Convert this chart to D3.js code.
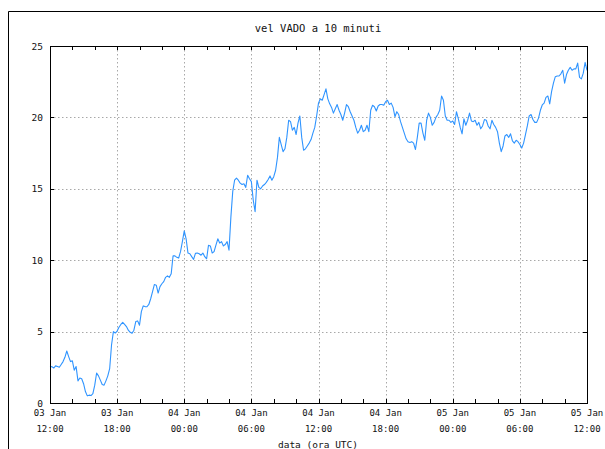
<!DOCTYPE html>
<html>
<head>
<meta charset="utf-8">
<script src="https://cdn.jsdelivr.net/npm/d3@7"></script>
<style>
  html, body { margin: 0; padding: 0; background: #fff; }
  svg { display: block; }
  text { font-family: "DejaVu Sans Mono", monospace; fill: #111; }
</style>
</head>
<body>
<script>
// Wind speed at VADO, 10-minute samples, 03 Jan 12:00 -> 05 Jan 12:00 UTC
const startTime = "2000-01-03T12:00:00Z";
const stepMinutes = 10;
const speeds = [
  2.5, 2.55, 2.45, 2.6, 2.55, 2.5,
  2.7, 2.9, 3.2, 3.64, 3.25, 2.9,
  2.95, 2.3, 2.55, 1.55, 1.75, 1.7,
  1.35, 0.8, 0.5, 0.55, 0.52, 0.65,
  1.25, 2.1, 1.9, 1.6, 1.3, 1.25,
  1.55, 1.9, 2.4, 4.06, 5.0, 4.9,
  5.04, 5.3, 5.5, 5.65, 5.5, 5.35,
  5.1, 4.95, 4.88, 5.1, 5.7, 5.75,
  5.45, 6.4, 6.8, 6.75, 6.74, 6.9,
  7.3, 7.8, 8.3, 8.25, 7.7, 8.15,
  8.35, 8.5, 8.8, 8.9, 8.8, 9.05,
  10.3, 10.3, 10.2, 10.15, 10.6, 11.3,
  12.05, 11.5, 10.5, 10.45, 10.25, 10.06,
  10.48, 10.5, 10.45, 10.35, 10.5, 10.25,
  10.1, 11.05, 11.0, 10.5, 10.6, 11.05,
  11.5, 11.2, 11.3, 11.0, 11.1, 11.3,
  10.7, 13.0, 14.8, 15.6, 15.75, 15.6,
  15.4, 15.3, 15.35, 15.1, 15.95, 15.7,
  15.5, 14.2, 13.4, 15.6, 15.1, 15.0,
  15.2, 15.3, 15.45, 15.65, 15.9, 15.6,
  15.85, 16.3, 17.2, 18.6, 18.1, 17.6,
  17.8, 18.6, 19.8, 19.7, 19.1, 19.3,
  18.8, 19.6, 20.1, 18.6, 17.7, 17.8,
  18.0, 18.2, 18.45, 18.9, 19.3, 20.1,
  21.0, 21.3, 21.2, 21.6, 22.0, 21.3,
  20.95, 20.7, 20.3, 20.6, 20.9, 20.5,
  20.2, 19.8, 20.3, 20.9, 20.75, 20.4,
  20.1, 19.8, 19.3, 18.9, 19.1, 19.45,
  19.0, 19.1, 19.45, 19.0, 20.5, 20.85,
  20.75, 20.45, 20.8, 20.9, 20.9, 20.85,
  21.1, 21.2, 20.9, 21.0, 20.7, 20.05,
  20.4, 20.2, 19.7, 19.3, 18.9, 18.5,
  18.3, 18.25, 18.3, 18.2, 17.75, 18.6,
  19.6, 19.6, 18.9, 18.4, 19.8, 20.3,
  20.0, 19.45, 19.65, 20.0, 20.2, 20.5,
  21.5, 21.2, 20.1, 19.8, 19.8, 19.65,
  19.75, 19.5, 20.4, 19.9, 19.3, 18.85,
  19.9, 19.45, 19.8, 20.3, 19.75, 19.7,
  19.8, 19.45, 19.65, 19.2, 19.4, 19.85,
  19.8, 19.4, 19.2, 19.8, 19.5, 19.3,
  19.0, 18.2, 17.6, 18.0, 18.7, 18.8,
  18.6, 18.85, 18.35, 18.2, 18.4, 18.3,
  18.1, 17.85, 18.2, 18.8, 19.4, 20.1,
  20.2, 19.85, 19.65, 19.65, 19.95, 20.5,
  20.87, 21.0, 21.4, 21.5, 20.95, 21.8,
  22.4, 22.85, 22.9, 22.9, 23.05, 23.3,
  22.4, 23.0, 23.3, 23.5, 23.3, 23.4,
  23.4, 23.8, 22.8, 22.7, 23.1, 23.85,
  23.3
];
const yTicks = [0, 5, 10, 15, 20, 25];
const xTickLabels = [
  ["03 Jan", "12:00"], ["03 Jan", "18:00"], ["04 Jan", "00:00"],
  ["04 Jan", "06:00"], ["04 Jan", "12:00"], ["04 Jan", "18:00"],
  ["05 Jan", "00:00"], ["05 Jan", "06:00"], ["05 Jan", "12:00"]
];
const titleText = "vel VADO a 10 minuti";
const xAxisTitle = "data (ora UTC)";

const W = 605, H = 449;
const margin = { left: 50, top: 46, right: 18, bottom: 46 };
const pw = W - margin.left - margin.right;   // 537
const ph = H - margin.top - margin.bottom;   // 357

const t0 = new Date(startTime);
const data = speeds.map((v, i) => ({ t: new Date(t0.getTime() + i * stepMinutes * 60000), v }));
const t1 = new Date(t0.getTime() + 48 * 3600000);

const x = d3.scaleUtc().domain([t0, t1]).range([0, pw]);
const y = d3.scaleLinear().domain([0, 25]).range([ph, 0]);

const majorTimes = xTickLabels.map((_, i) => new Date(t0.getTime() + i * 6 * 3600000));
const minorTimes = d3.range(0, 49, 2).map(h => new Date(t0.getTime() + h * 3600000));

const svg = d3.select("body").append("svg").attr("width", W).attr("height", H);

// outer frame
svg.append("path")
  .attr("d", `M8.5,${H} V11.5 H${W}`)
  .attr("fill", "none").attr("stroke", "#000").attr("stroke-width", 1);

svg.append("text")
  .attr("x", 318).attr("y", 32)
  .attr("text-anchor", "middle")
  .style("font-size", "10.5px")
  .text(titleText);

const g = svg.append("g").attr("transform", `translate(${margin.left},${margin.top})`);

// dotted grid
const grid = g.append("g").attr("stroke", "#a8a8a8").attr("stroke-dasharray", "1.5,2.5").attr("stroke-width", 1);
grid.selectAll("line.gx").data(majorTimes.slice(1, -1)).join("line")
  .attr("x1", d => Math.round(x(d)) + 0.5).attr("x2", d => Math.round(x(d)) + 0.5)
  .attr("y1", 0).attr("y2", ph);
grid.selectAll("line.gy").data(yTicks.slice(1, -1)).join("line")
  .attr("y1", d => Math.round(y(d)) + 0.5).attr("y2", d => Math.round(y(d)) + 0.5)
  .attr("x1", 0).attr("x2", pw);

// ticks on all four sides (inward)
const tickLen = 4;
const ticks = g.append("g").attr("stroke", "#000").attr("stroke-width", 1);
minorTimes.forEach(d => {
  const xx = Math.round(x(d)) + 0.5;
  ticks.append("line").attr("x1", xx).attr("x2", xx).attr("y1", ph).attr("y2", ph - tickLen);
  ticks.append("line").attr("x1", xx).attr("x2", xx).attr("y1", 0).attr("y2", tickLen);
});
yTicks.forEach(d => {
  const yy = Math.round(y(d)) + 0.5;
  ticks.append("line").attr("x1", 0).attr("x2", tickLen).attr("y1", yy).attr("y2", yy);
  ticks.append("line").attr("x1", pw).attr("x2", pw - tickLen).attr("y1", yy).attr("y2", yy);
});

// series line
const line = d3.line().x(d => x(d.t)).y(d => y(d.v));
g.append("path").datum(data)
  .attr("fill", "none").attr("stroke", "#2f94ff").attr("stroke-width", 1.1)
  .attr("stroke-linejoin", "round")
  .attr("d", line);

// plot frame
g.append("rect").attr("x", 0.5).attr("y", 0.5).attr("width", pw).attr("height", ph)
  .attr("fill", "none").attr("stroke", "#000").attr("stroke-width", 1);

// y labels
g.selectAll("text.yl").data(yTicks).join("text")
  .attr("x", -7).attr("y", d => y(d) + 3.5)
  .attr("text-anchor", "end")
  .style("font-size", "9.5px")
  .text(d => d);

// x labels
majorTimes.forEach((d, i) => {
  const t = g.append("text").attr("text-anchor", "middle").style("font-size", "9px")
    .attr("transform", `translate(${x(d)},${ph + 13})`);
  t.append("tspan").attr("x", 0).attr("y", 0).text(xTickLabels[i][0]);
  t.append("tspan").attr("x", 0).attr("y", 16).text(xTickLabels[i][1]);
});

svg.append("text")
  .attr("x", 318).attr("y", 448)
  .attr("text-anchor", "middle")
  .style("font-size", "9.5px")
  .text(xAxisTitle);
</script>
</body>
</html>
